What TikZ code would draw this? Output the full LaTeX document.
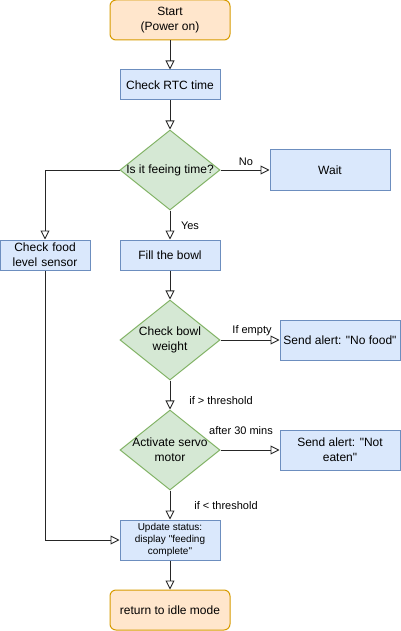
\documentclass[tikz,border=0pt]{standalone}
\usepackage{fontspec}
\setmainfont{Liberation Sans}
\usepackage{xcolor}
\usetikzlibrary{positioning,arrows.meta,calc,shapes.geometric}
\newcommand{\qt}[1]{\textquotedbl#1\textquotedbl}
\definecolor{procfill}{HTML}{DAE8FC}
\definecolor{procline}{HTML}{6C8EBF}
\definecolor{askfill}{HTML}{D5E8D4}
\definecolor{askline}{HTML}{82B366}
\definecolor{endfill}{HTML}{FFE6CC}
\definecolor{endline}{HTML}{D79B00}
\tikzset{
  proc/.style={draw=procline,fill=procfill,line width=1pt,minimum width=100pt,minimum height=30pt,inner sep=1pt,align=center,font=\fontsize{12}{15}\selectfont},
  term/.style={proc,draw=endline,fill=endfill,rounded corners=6pt,minimum width=120pt,minimum height=40pt},
  ask/.style={diamond,draw=askline,fill=askfill,line width=1pt,minimum width=100pt,minimum height=80pt,inner sep=0pt},
  asktext/.style={font=\fontsize{12}{15}\selectfont,align=center,inner sep=0pt},
  note/.style={font=\fontsize{11}{13}\selectfont,inner sep=1pt},
  arr/.style={-{Triangle[open,length=9pt,width=9pt]},line width=0.9pt,black!85},
}
\begin{document}
\begin{tikzpicture}[x=1pt,y=-1pt]
\useasboundingbox (0,0) rectangle (401,631);
\node[term] (start) at (170,20) {Start\\(Power on)};
\node[proc] (rtc) at (170,85) {Check RTC time};
\node[ask,label={[asktext]center:Is it feeing time?}] (feed) at (170,170) {};
\node[proc,minimum width=120pt,minimum height=40pt] (wait) at (330,170) {Wait};
\node[proc,minimum width=90pt,text width=86pt] (food) at (45,255) {Check food\\level sensor};
\node[proc] (fill) at (170,255) {Fill the bowl};
\node[ask,label={[asktext]center:Check bowl\\weight}] (weigh) at (170,340) {};
\node[proc,minimum width=120pt,minimum height=40pt] (nofood) at (340,340) {Send alert: \qt{No food}};
\node[ask,label={[asktext]center:Activate servo\\motor}] (servo) at (170,450) {};
\node[proc,minimum width=120pt,minimum height=40pt] (noteat) at (340,450) {Send alert: \textquotedbl Not\\eaten\textquotedbl};
\node[proc,minimum height=40pt,font=\fontsize{10}{12}\selectfont] (upd) at (170,540) {Update status:\\display \textquotedbl feeding\\complete\textquotedbl};
\node[term] (idle) at (170,610) {return to idle mode};
\draw[arr] (start) -- (rtc);
\draw[arr] (rtc) -- (feed);
\draw[arr] (feed) -- (wait);
\draw[arr] (feed) -- (fill);
\draw[arr] (feed.west) -| (food.north);
\draw[arr] (fill) -- (weigh);
\draw[arr] (weigh) -- (nofood);
\draw[arr] (weigh) -- (servo);
\draw[arr] (servo) -- (noteat);
\draw[arr] (servo) -- (upd);
\draw[arr] (food.south) |- (upd.west);
\draw[arr] (upd) -- (idle);
\node[note] (lno) at (246,162) {No};
\node[note] (lyes) at (190,226) {Yes};
\node[note] (lempty) at (252,331) {If empty};
\node[note] (lmore) at (221,401) {if > threshold};
\node[note] (lafter) at (241,431) {after 30 mins};
\node[note] (lless) at (226,506) {if < threshold};
\end{tikzpicture}
\end{document}
